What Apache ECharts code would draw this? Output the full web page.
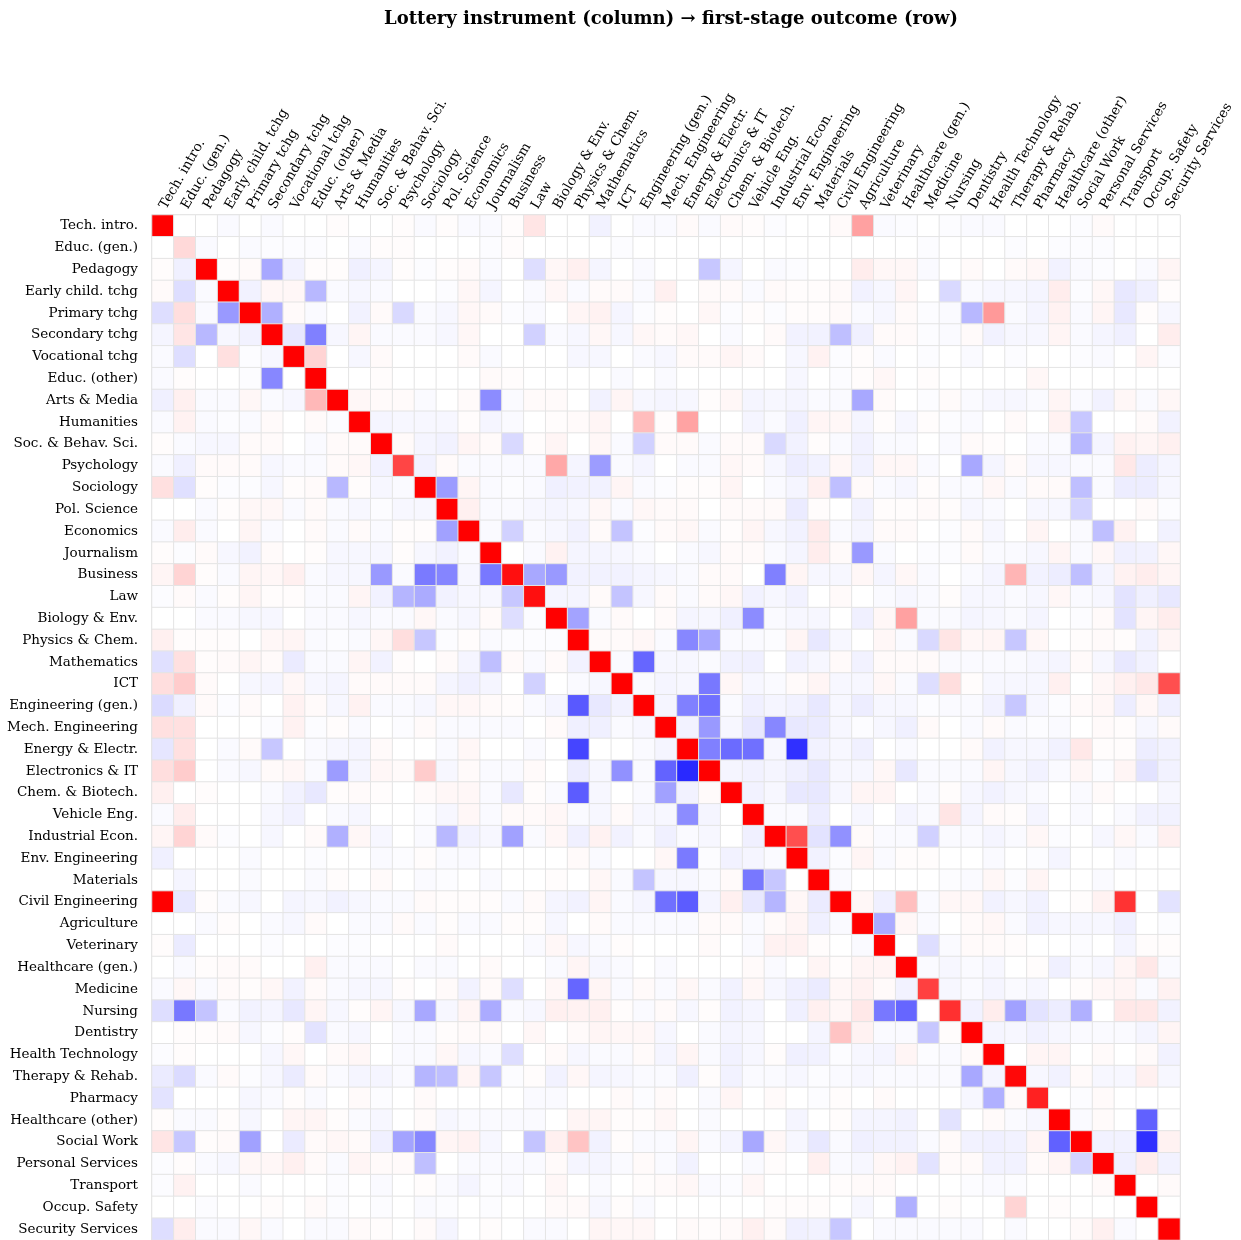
<!DOCTYPE html>
<html>
<head>
<meta charset="utf-8">
<script src="https://cdn.jsdelivr.net/npm/echarts@6/dist/echarts.min.js"></script>
<style>
html,body{margin:0;padding:0;background:#fff;}
#chart{width:1241px;height:1240px;}
</style>
</head>
<body>
<div id="chart"></div>
<script>
const categories = ["Tech. intro.","Educ. (gen.)","Pedagogy","Early child. tchg","Primary tchg","Secondary tchg","Vocational tchg","Educ. (other)","Arts & Media","Humanities","Soc. & Behav. Sci.","Psychology","Sociology","Pol. Science","Economics","Journalism","Business","Law","Biology & Env.","Physics & Chem.","Mathematics","ICT","Engineering (gen.)","Mech. Engineering","Energy & Electr.","Electronics & IT","Chem. & Biotech.","Vehicle Eng.","Industrial Econ.","Env. Engineering","Materials","Civil Engineering","Agriculture","Veterinary","Healthcare (gen.)","Medicine","Nursing","Dentistry","Health Technology","Therapy & Rehab.","Pharmacy","Healthcare (other)","Social Work","Personal Services","Transport","Occup. Safety","Security Services"];

// values in percent of the colour-scale limit (rows = first-stage outcome, columns = lottery instrument)
const values = [
[100,0,0,-2,0,-2,0,0,1,0,0,1,-2,1,-2,-2, 1,10,0,0,-5,0,-2,-2,2,-2,2,1,-1,0,0,2, 37,-2,-1,0,-1,-2,-2,0,0,0,-1,2,0,0,0],
[0,15,-2,0,-2,-1,-1,-1,0,-2,1,1,0,0,0,-1, 1,0,0,0,0,-1,0,0,0,0,0,0,0,0,0,0, 0,0,0,-1,0,0,0,-1,0,-1,-1,-1,0,0,0],
[1,-6,100,1,2,-34,-5,1,1,-6,-4,1,-1,1,2,-2, 0,-13,3,6,-4,0,-2,0,0,-22,-4,0,-2,-1,0,0, 7,3,3,-2,0,2,0,2,3,-5,-2,-1,0,-2,4],
[2,-13,-2,100,-5,3,3,-28,-2,-3,-2,0,0,-1,3,-4, 0,-2,3,-2,2,2,-2,6,0,2,2,-2,2,1,1,2, -5,-3,4,0,-15,-2,-3,-3,-4,7,-1,3,-9,-6,1],
[-13,13,-2,-40,100,-31,2,-2,0,-5,2,-15,-2,-3,3,2, -1,-2,0,4,5,-4,-1,1,0,3,-1,1,-1,1,1,2, -2,-3,2,-1,-2,-28,40,-2,-4,5,-2,4,-9,1,-3],
[-4,10,-28,-3,-5,100,-9,-50,-3,4,-2,-2,-2,-3,3,0, 0,-18,-2,-3,3,-3,3,2,3,0,-2,0,2,-5,-5,-25, -6,2,2,-1,-2,2,-5,-3,-3,4,-2,-4,-6,0,7],
[-2,-13,0,12,-1,-3,100,17,0,-3,2,0,0,0,2,-2, 0,0,0,-3,-3,0,-2,-3,2,2,4,2,0,-3,5,-1, 1,-2,0,-1,0,-2,0,-1,0,0,-1,-2,0,4,-1],
[-2,1,0,0,-1,-47,0,100,0,0,1,0,0,0,0,2, 1,0,0,0,0,-2,0,-2,0,0,0,0,0,-3,0,-1, 1,3,0,1,0,0,0,0,3,0,0,0,0,0,0],
[-6,6,-2,-2,3,-2,-3,28,100,3,2,2,-2,0,2,-45, -2,2,2,0,-5,4,-3,-4,-3,1,3,-4,-3,-4,-2,-2, -34,2,0,-1,2,-2,-3,-3,-2,4,-2,-5,3,-2,3],
[-2,5,-2,-1,-2,2,0,2,-1,100,-4,-3,-3,-3,1,-4, -2,0,1,2,4,0,26,1,36,0,0,-4,-2,-6,4,3, -4,1,-3,1,-1,-2,0,2,0,5,-22,0,0,2,-5],
[1,-2,-3,-3,2,2,0,-2,2,2,100,2,-4,-5,4,2, -15,1,4,0,3,-2,-18,2,2,-2,2,2,-15,-5,1,-2, -5,-2,-2,0,-2,2,1,0,-2,-2,-28,-4,5,4,6],
[-2,-6,2,2,2,-3,-2,-2,2,3,-5,73,-5,2,-2,-2, -2,-2,34,-4,-39,-2,-4,0,-2,-2,3,2,-3,-7,-5,3, -5,3,3,-2,0,-34,-4,2,-3,-3,-2,-2,9,-7,-4],
[12,-12,1,-1,-1,-3,1,2,-28,1,-3,-2,100,-39,4,-2, -1,-2,-6,-5,-5,4,-2,-1,1,1,4,0,-2,-4,6,-25, 2,-2,-3,1,-2,-2,3,-2,2,2,-25,-2,-7,-7,-3],
[0,0,-2,1,3,3,-2,2,-2,-3,-1,-3,-3,100,6,-2, -2,-3,-4,-3,3,-2,3,2,2,0,2,2,2,-8,1,0, -5,1,1,2,1,-3,-2,0,-3,-3,-17,0,0,2,-1],
[-2,7,-2,0,4,-2,0,2,-2,2,-2,1,1,-37,100,-2, -18,-2,-3,-5,2,-23,-1,2,3,-2,1,4,-3,-5,8,-2, -4,2,2,0,-1,2,-3,0,4,0,-2,-25,5,0,-5],
[1,-1,2,-3,-5,2,0,1,-3,-3,-3,1,-3,-5,-2,100, 0,-2,5,-4,-4,-3,-2,0,-2,-3,2,2,-2,-4,7,2, -40,-2,0,-1,-1,2,-2,-2,-3,4,-2,3,-6,-5,3],
[4,17,1,-2,4,3,6,-2,-3,-3,-40,-2,-52,-48,-3,-53, 94,-34,-40,-5,-5,-5,-4,-3,-2,2,2,0,-50,4,-3,-3, 3,-4,3,-2,0,-2,-4,29,-5,-7,-25,-4,5,7,4],
[-1,2,-2,1,4,1,1,-2,-2,4,-5,-29,-33,-5,-3,-3, -22,94,-4,-4,2,-23,-3,2,-2,2,3,-5,-3,-5,0,2, 0,-2,-3,-2,1,-3,-3,-2,-3,3,-2,-3,-11,-6,-9],
[0,0,-2,-2,-3,-3,0,-2,-2,-3,-2,-2,3,-2,-3,2, -13,-1,100,-36,-2,2,0,2,-4,-3,-6,-45,-2,-3,-3,0, -6,3,37,-2,-2,-4,-3,-2,-4,0,-1,2,-11,4,7],
[6,1,1,1,0,3,4,-2,-1,-2,3,13,-22,-1,1,-2, -1,-1,-1,100,2,2,3,-2,-47,-34,-2,-2,-1,4,-9,-3, 0,3,-2,-15,10,3,4,-22,3,0,1,2,1,-5,4],
[-12,12,1,2,4,2,-8,-2,-2,4,-5,1,0,2,-4,-25, 2,-2,2,-5,100,-2,-60,-3,-3,-2,-5,-6,0,-5,-3,2, -5,2,2,2,-2,-2,-2,-2,-3,-4,2,-3,-9,-5,0],
[13,20,2,0,-3,-4,3,-3,-4,2,2,2,2,-4,-6,-4, 0,-18,0,-2,-3,100,-2,-4,-3,-53,3,-3,-2,2,4,-3, -3,3,-2,-13,13,1,-3,-3,-3,6,0,3,6,9,69],
[-14,-6,2,-1,2,0,5,2,-3,5,-2,-2,-3,3,3,2, 1,-2,-4,-65,-9,-5,100,-4,-50,-56,-2,-6,-4,-5,-9,-3, -7,-3,-3,-1,-2,-2,-5,-22,-3,-1,2,3,-7,3,-6],
[12,12,0,0,0,-1,5,-1,1,-2,0,-1,2,-2,-2,-2, -2,0,2,-6,-6,-2,-3,100,-5,-40,-3,-9,-47,-9,-8,-3, -1,-3,-6,2,0,-2,2,-2,-1,-2,0,2,1,-3,2],
[-10,12,0,-2,2,-22,0,-2,-3,-4,2,0,0,-2,3,0, 0,-2,0,-73,0,0,-2,-4,100,-50,-58,-56,-3,-81,-5,-3, -6,0,-2,0,0,2,-5,-3,-3,-5,9,1,1,-7,-5],
[13,20,0,-2,-3,2,3,-2,-39,-4,3,2,20,-3,2,-2, -2,2,0,-7,-3,-43,-2,-61,-84,100,-4,-5,-4,-6,-9,-3, -3,3,-9,-2,-2,-2,4,-3,-5,-2,3,-1,4,-11,-5],
[6,0,1,0,0,-2,-5,-9,1,2,1,0,2,3,3,-2, -9,1,-2,-64,-3,0,-2,-37,-5,2,100,-5,-3,-9,-9,-3, 4,4,0,-2,1,-3,-5,-3,-2,0,-2,2,0,0,-3],
[-2,7,0,0,0,-3,-5,0,-2,-3,0,0,-1,-3,3,-2, 2,2,3,-2,-3,2,-3,-3,-45,-4,0,100,-2,-2,-7,0, -3,0,-4,-2,10,-4,2,1,-4,0,-2,0,-2,-5,-5],
[4,17,2,-1,0,-3,0,2,-31,3,-3,0,-2,-28,-5,-3, -37,-2,3,-6,5,-5,-2,-6,-2,-3,0,-6,100,69,-11,-43, 2,-2,-2,-18,-2,-2,-4,-2,3,-1,0,-3,3,-2,6],
[-6,0,0,0,-2,0,0,-1,0,0,-2,-1,1,-2,-2,0, 0,0,0,2,-2,0,0,3,-52,-1,-5,-4,-2,100,-5,-1, 4,-2,1,1,0,0,-2,0,-1,-4,0,0,-2,0,0],
[0,-4,0,0,-2,0,0,-2,1,0,2,0,-2,-1,0,-2, 0,0,1,0,3,-2,-23,-3,-3,-2,2,-53,-22,0,100,-2, 0,0,0,0,-1,-2,3,-1,4,0,0,-2,0,0,0],
[100,-9,1,-2,-3,0,-4,-3,-5,-3,-2,-2,2,1,1,1, -2,2,-4,-5,4,-2,-4,-56,-64,-4,6,-9,-29,3,-8,100, 3,-6,25,-2,3,3,-5,-3,-5,0,1,5,80,0,-11],
[0,0,-2,1,0,-2,-3,2,0,-2,-2,2,-2,1,-2,-2, 1,1,-3,0,2,-2,-2,-2,-2,2,2,-2,2,4,-6,-2, 100,-33,3,-2,0,2,3,-2,-5,-3,-3,-3,-6,0,-1],
[1,-8,0,0,0,-1,0,0,-1,-1,0,0,0,2,0,0, 0,-2,3,-3,-2,1,0,0,0,2,0,-2,5,5,1,0, -2,100,0,-13,-2,2,2,1,0,0,-1,0,-4,1,1],
[0,-2,1,2,2,0,0,6,-2,-2,-2,0,-2,-2,0,2, 0,0,-2,4,-3,-2,0,-2,0,0,0,2,-2,0,4,1, 4,4,100,-2,-3,-2,-3,0,1,-6,-2,-3,4,9,-2],
[-2,3,-2,2,1,3,-5,2,-2,-3,-3,1,0,2,-5,2, -13,0,3,-60,4,-2,2,-2,3,-2,-5,3,-3,-6,-8,3, 5,2,-5,75,-3,-2,-4,-2,-3,0,1,3,4,-2,5],
[-13,-53,-23,-2,-5,-4,-9,4,-3,1,4,-3,-34,-3,4,-33, -2,-3,6,5,6,1,-2,2,-3,1,-5,-4,0,-6,6,3, 9,-53,-60,0,81,-5,7,-37,-11,-7,-31,0,9,9,-5],
[0,1,1,2,-3,-1,1,-11,-2,-3,0,-2,-2,1,2,2, 0,3,0,2,4,3,3,-3,0,-2,-4,-3,0,0,-4,23, 5,-2,-2,-22,1,100,-4,-3,-5,-3,-2,-2,-2,-4,4],
[-1,1,0,0,0,-3,3,0,2,3,0,-2,-2,3,-3,-2, -13,0,2,-3,-2,-2,2,-4,4,-2,-5,-3,1,-6,-5,-1, -3,-4,4,-1,-2,2,100,0,4,4,0,2,0,2,-5],
[-8,-14,-2,2,-1,-3,-8,2,-2,-4,-4,-2,-29,-25,4,-22, -1,1,-5,3,-4,-3,-2,-2,-6,1,-5,-2,-2,-3,-1,-2, -3,-2,-2,-2,-2,-34,-4,97,-3,-5,2,-3,-3,6,-3],
[-11,0,0,0,-3,-2,1,-2,0,2,-1,0,2,0,0,0, 0,-2,-2,0,0,2,-1,2,0,-2,4,0,2,0,-1,1, 0,2,0,0,0,-3,-31,2,87,0,-1,2,0,0,0],
[1,-2,-2,1,-3,0,4,4,1,-2,-3,0,2,-3,-2,-2, -2,-2,0,4,4,1,1,3,0,-2,0,0,0,-4,0,1, -4,-4,-5,0,-11,0,2,-2,-3,100,-2,2,0,-62,0],
[10,-22,1,2,-37,0,-8,2,3,2,-6,-36,-47,4,5,-3, 0,-23,6,23,-5,1,-2,-2,4,-2,-4,-34,3,-3,-9,-2, -6,-5,-5,-2,2,-5,-6,-5,4,-62,100,-5,-5,-81,5],
[-1,1,-2,-3,3,3,6,2,-2,4,2,2,-25,0,-2,-2, -2,-2,2,-4,-4,-2,2,-2,-5,0,0,-2,1,0,6,-2, -3,3,5,-11,2,2,-5,-5,2,4,-17,100,-6,7,-5],
[-1,5,0,0,-2,0,0,0,-1,0,-2,0,1,-2,-4,-1, -2,0,3,0,-2,0,1,2,3,-2,-1,3,0,0,0,1, 2,2,0,0,0,-1,-2,-1,0,0,0,2,100,0,2],
[0,0,-1,0,0,1,0,2,-1,0,-1,0,-2,-1,0,-1, 0,0,2,2,-3,1,-2,0,0,0,0,0,1,1,1,0, -3,0,-31,0,1,0,0,17,0,1,0,0,0,100,0],
[-13,7,-2,-2,3,-2,0,-2,-2,2,1,0,2,-4,0,1, 0,-2,-2,0,4,3,3,0,2,1,2,6,2,-6,-5,-22, 0,-2,-2,-2,-2,-2,0,-2,0,0,2,6,-2,0,100]
];

const titleText = "Lottery instrument (column) \u2192 first-stage outcome (row)";

const data = [];
values.forEach((row, i) => row.forEach((v, j) => data.push([j, i, v / 100])));

const FONT = "DejaVu Serif";
const chart = echarts.init(document.getElementById('chart'), null, {renderer: 'canvas'});
chart.setOption({
  animation: false,
  backgroundColor: '#ffffff',
  title: {
    text: titleText,
    left: 666,
    top: 5,
    textAlign: 'center',
    textStyle: {fontFamily: FONT, fontSize: 18, fontWeight: 'bold', color: '#000'}
  },
  grid: {left: 152, right: 61, top: 215, bottom: 0, show: true, borderColor: '#c4c4c4', borderWidth: 1, backgroundColor: 'transparent'},
  xAxis: {
    type: 'category',
    data: categories,
    position: 'top',
    axisLine: {show: false},
    axisTick: {show: false},
    splitLine: {show: false},
    axisLabel: {interval: 0, rotate: -60, margin: 7, fontFamily: FONT, fontSize: 13.5, color: '#000'}
  },
  yAxis: {
    type: 'category',
    data: categories,
    inverse: true,
    axisLine: {show: false},
    axisTick: {show: false},
    splitLine: {show: false},
    axisLabel: {interval: 0, margin: 14, fontFamily: FONT, fontSize: 13.5, color: '#000'}
  },
  visualMap: {
    show: false,
    min: -1,
    max: 1,
    dimension: 2,
    inRange: {color: ['#0000ff', '#ffffff', '#ff0000']}
  },
  series: [{
    type: 'heatmap',
    data: data,
    itemStyle: {borderColor: '#e4e4e4', borderWidth: 1},
    emphasis: {disabled: true}
  }]
});
</script>
</body>
</html>
